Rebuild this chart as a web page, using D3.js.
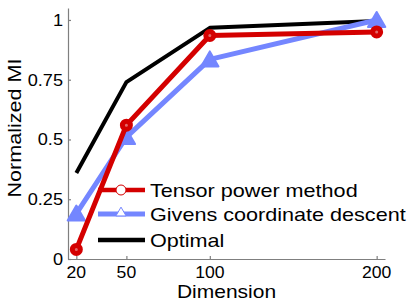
<!DOCTYPE html>
<html>
<head>
<meta charset="utf-8">
<script src="https://cdn.jsdelivr.net/npm/d3@7/dist/d3.min.js"></script>
<style>
  body { margin: 0; background: #fff; }
  text { font-family: "Liberation Sans", Arial, sans-serif; fill: #000; }
</style>
</head>
<body>
<div id="chart"></div>
<script>
// Values
const dimensions = [20, 50, 100, 200];
const tensorPower = [0.04, 0.56, 0.935, 0.95];
const givens = [0.19, 0.51, 0.835, 1.0];
const optimal = [0.36, 0.74, 0.967, 0.996];
const yTicks = [0, 0.25, 0.5, 0.75, 1];
const yTickLabels = ["0", "0.25", "0.5", "0.75", "1"];
const seriesNames = ["Tensor power method", "Givens coordinate descent", "Optimal"];

const W = 415, H = 305;
const red = "#d40000", blue = "#7486ff";

const svg = d3.select("#chart").append("svg")
    .attr("width", W).attr("height", H);

const x = d3.scaleLinear().domain([15, 205]).range([68, 385]);
const y = d3.scaleLinear().domain([0, 1.05]).range([259, 8]);

// axes (box off, grey, ticks inward)
const xAxis = svg.append("g")
    .attr("transform", `translate(0,${y(0)})`)
    .call(d3.axisBottom(x).tickValues(dimensions).tickSizeInner(-3).tickSizeOuter(0).tickFormat(""));
const yAxis = svg.append("g")
    .attr("transform", `translate(${x(15)},0)`)
    .call(d3.axisLeft(y).tickValues(yTicks).tickSizeInner(-3).tickSizeOuter(0).tickFormat(""));
[xAxis, yAxis].forEach(g => {
    g.selectAll("path, line").attr("stroke", "#7f7f7f").attr("stroke-width", 1.2);
});

// tick labels, stretched a little horizontally like the original font
dimensions.forEach(d => {
    svg.append("text")
        .attr("transform", `translate(${x(d)},278) scale(1.1,1)`)
        .attr("text-anchor", "middle")
        .attr("font-size", 16)
        .text(d);
});
yTicks.forEach((t, i) => {
    svg.append("text")
        .attr("transform", `translate(63,${y(t) + 6}) scale(1.1,1)`)
        .attr("text-anchor", "end")
        .attr("font-size", 16.5)
        .text(yTickLabels[i]);
});

// axis titles
svg.append("text")
    .attr("transform", `translate(${x(110)},298) scale(1.2,1)`)
    .attr("text-anchor", "middle")
    .attr("font-size", 17.5)
    .text("Dimension");
svg.append("text")
    .attr("transform", `translate(21,128) rotate(-90) scale(1.2,1)`)
    .attr("text-anchor", "middle")
    .attr("font-size", 18)
    .text("Normalized MI");

const line = d3.line().x(d => x(d[0])).y(d => y(d[1]));
const pts = vals => dimensions.map((d, i) => [d, vals[i]]);

const triangle = d3.symbol().type(d3.symbolTriangle);

// Optimal
svg.append("path")
    .attr("d", line(pts(optimal)))
    .attr("fill", "none").attr("stroke", "#000").attr("stroke-width", 4)
    .attr("stroke-linejoin", "round");

// Givens
svg.append("path")
    .attr("d", line(pts(givens)))
    .attr("fill", "none").attr("stroke", blue).attr("stroke-width", 5)
    .attr("stroke-linejoin", "round");
svg.selectAll(".tri").data(pts(givens)).join("path")
    .attr("class", "tri")
    .attr("transform", d => `translate(${x(d[0])},${y(d[1]) + 2})`)
    .attr("d", triangle.size(130)())
    .attr("fill", blue).attr("stroke", blue).attr("stroke-width", 2)
    .attr("stroke-linejoin", "round");

// Tensor power method
svg.append("path")
    .attr("d", line(pts(tensorPower)))
    .attr("fill", "none").attr("stroke", red).attr("stroke-width", 5)
    .attr("stroke-linejoin", "round");
svg.selectAll(".circ").data(pts(tensorPower)).join("circle")
    .attr("class", "circ")
    .attr("cx", d => x(d[0])).attr("cy", d => y(d[1]))
    .attr("r", 4)
    .attr("fill", "#e26a6a").attr("stroke", red).attr("stroke-width", 5);

// legend
const legend = svg.append("g");
const rows = [190, 214, 240];
const colors = [red, blue, "#000"];
const widths = [4.5, 5, 4.5];
seriesNames.forEach((name, i) => {
    legend.append("line")
        .attr("x1", 98).attr("x2", 145)
        .attr("y1", rows[i]).attr("y2", rows[i])
        .attr("stroke", colors[i]).attr("stroke-width", widths[i]);
    legend.append("text")
        .attr("transform", `translate(150,${rows[i] + 6.5}) scale(1.2,1)`)
        .attr("font-size", 18)
        .text(name);
});
legend.append("circle")
    .attr("cx", 121).attr("cy", rows[0]).attr("r", 5)
    .attr("fill", "#fff").attr("stroke", red).attr("stroke-width", 1);
legend.append("path")
    .attr("transform", `translate(121,${rows[1] - 1})`)
    .attr("d", d3.symbol().type(d3.symbolTriangle).size(45)())
    .attr("fill", "#fff").attr("stroke", blue).attr("stroke-width", 1);
</script>
</body>
</html>
